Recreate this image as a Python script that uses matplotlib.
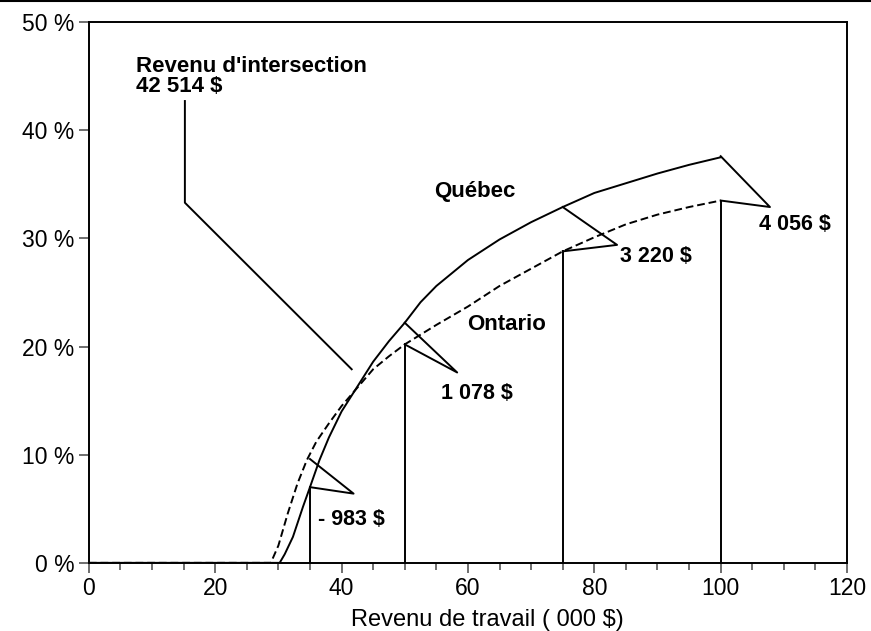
import matplotlib
matplotlib.use("Agg")
import matplotlib.pyplot as plt
from matplotlib.lines import Line2D
from matplotlib.ticker import MultipleLocator, FuncFormatter

plt.rcParams['font.family'] = ['Liberation Sans', 'DejaVu Sans']

# Taux effectif (%) selon le revenu de travail (000 $)
quebec_x = [0, 30.2, 31, 32.3, 33.9, 35, 36.5, 38, 40, 42.5, 45, 47.5, 50, 52.5,
            55, 60, 65, 70, 75, 80, 85, 90, 95, 100]
quebec_y = [0, 0, 0.8, 2.4, 5.2, 7.0, 9.5, 11.6, 14.0, 16.3, 18.6, 20.5, 22.2, 24.1,
            25.6, 28.0, 29.9, 31.5, 32.9, 34.2, 35.1, 36.0, 36.8, 37.5]
ontario_x = [0, 28.8, 30, 31.5, 33, 34.5, 36, 38, 40, 42.5, 45, 47.5, 50, 55,
             60, 65, 70, 75, 80, 85, 90, 95, 100]
ontario_y = [0, 0, 1.6, 4.6, 7.3, 9.5, 11.2, 12.9, 14.5, 16.2, 17.9, 19.1, 20.2, 22.0,
             23.7, 25.6, 27.2, 28.8, 30.1, 31.3, 32.2, 32.9, 33.5]

# Écarts aux revenus choisis
gap_x = [35, 50, 75, 100]
gap_quebec = [7.0, 22.2, 32.9, 37.6]
gap_ontario = [9.6, 20.2, 28.8, 33.5]
gap_labels = ["- 983 $", "1 078 $", "3 220 $", "4 056 $"]
gap_tip = [(41.9, 6.4), (58.3, 17.6), (83.6, 29.4), (107.8, 32.9)]
gap_text = [(36.2, 4.0), (55.7, 15.7), (84.0, 28.3), (106.0, 31.3)]

inter_path_x = [15.2, 15.2, 41.6]
inter_path_y = [42.7, 33.3, 17.9]

fig = plt.figure(figsize=(8.71, 6.31), dpi=100)
ax = fig.add_axes([0.102, 0.108, 0.8705, 0.857])

ax.plot(quebec_x, quebec_y, color="black", lw=1.4)
ax.plot(ontario_x, ontario_y, color="black", lw=1.4, ls=(0, (4, 2)))

for x, q, o, lab, tip, tpos in zip(gap_x, gap_quebec, gap_ontario, gap_labels,
                                   gap_tip, gap_text):
    ax.plot([x, x], [0, min(q, o)], color="black", lw=1.4)
    ax.plot([x, tip[0], x], [q, tip[1], o], color="black", lw=1.4)
    ax.text(tpos[0], tpos[1], lab, fontsize=15.5, fontweight="bold", va="center")

ax.plot(inter_path_x, inter_path_y, color="black", lw=1.4)
ax.text(7.4, 45.9, "Revenu d'intersection", fontsize=16, fontweight="bold", va="center")
ax.text(7.4, 44.0, "42 514 $", fontsize=16, fontweight="bold", va="center")
ax.text(54.7, 34.3, "Québec", fontsize=16, fontweight="bold", va="center")
ax.text(59.8, 22.0, "Ontario", fontsize=16, fontweight="bold", va="center")

ax.set_xlim(0, 120)
ax.set_ylim(0, 50)
ax.xaxis.set_major_locator(MultipleLocator(20))
ax.xaxis.set_minor_locator(MultipleLocator(5))
ax.yaxis.set_major_locator(MultipleLocator(10))
ax.yaxis.set_major_formatter(FuncFormatter(lambda v, p: f"{v:.0f} %"))
ax.tick_params(axis="both", which="major", direction="out", length=7, width=1.2,
               labelsize=16.5, color="#555555")
ax.tick_params(axis="x", which="minor", direction="out", length=5, width=1.2,
               color="#555555")
for s in ax.spines.values():
    s.set_linewidth(1.4)
ax.set_xlabel("Revenu de travail ( 000 $)", fontsize=17)
ax.xaxis.set_label_coords(0.526, -0.085)

fig.add_artist(Line2D([0, 1], [0.998, 0.998], color="black", lw=1.5,
                      transform=fig.transFigure))

fig.savefig("out.png", dpi=100)
